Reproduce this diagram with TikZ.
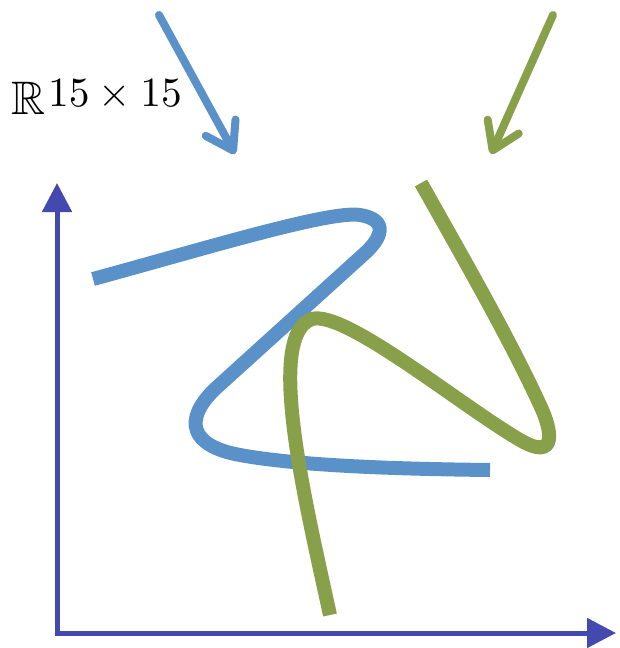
\documentclass[tikz,border=0pt]{standalone}
\usepackage{amssymb}
\usepackage{graphicx}
\usetikzlibrary{arrows.meta}
\definecolor{cblue}{RGB}{91,145,201}
\definecolor{cgreen}{RGB}{136,160,74}
\definecolor{caxis}{RGB}{67,73,175}
\begin{document}
\begin{tikzpicture}[x=1pt,y=-1pt,
  curveline/.style={line width=14pt,line cap=butt},
  pointer/.style={line width=8pt,line cap=round,line join=round,-{Straight Barb[length=26pt,width=34pt,round]}},
  axisline/.style={caxis,line width=5pt,{Triangle[length=29pt,width=29pt]}-{Triangle[length=29pt,width=29pt]}}]
\useasboundingbox (0,0) rectangle (619,648);
% label
\node[anchor=base west,inner sep=0pt] (lab) at (11,114)
  {\scalebox{4.7}{$\mathbb{R}$}\hspace{3pt}\raisebox{8pt}{\scalebox{4.15}{$15\times15$}}};
% axes
\coordinate (o) at (57,633);
\coordinate (ytop) at (57,183);
\coordinate (xend) at (616,633);
\draw[axisline] (ytop) -- (o) -- (xend);
% pointer arrows
\coordinate (bs) at (159,15);
\coordinate (bt) at (235,154);
\coordinate (gs) at (553,15);
\coordinate (gt) at (491,154);
\draw[pointer,cblue] (bs) -- (bt);
\draw[pointer,cgreen] (gs) -- (gt);
% blue curve
\coordinate (b0) at (93,279);
\coordinate (b1) at (360,215);
\coordinate (b2) at (364,254);
\coordinate (b3) at (215,389);
\coordinate (b4) at (240,455);
\coordinate (b5) at (490,470);
\draw[curveline,cblue] (b0) .. controls (200,250) and (330,210) .. (b1)
  .. controls (390,220) and (381,239) .. (b2) -- (b3)
  .. controls (183,420) and (190,446) .. (b4)
  .. controls (300,466) and (400,469) .. (b5);
% green curve
\coordinate (g0) at (330,615);
\coordinate (g1) at (312,319);
\coordinate (g2) at (520,440);
\coordinate (g3) at (540,405);
\coordinate (g4) at (421,183);
\draw[curveline,cgreen] (g0) .. controls (305,500) and (265,335) .. (g1)
  .. controls (345,310) and (460,405) .. (g2)
  .. controls (558,462) and (552,430) .. (g3)
  .. controls (510,340) and (470,270) .. (g4);
\end{tikzpicture}
\end{document}
